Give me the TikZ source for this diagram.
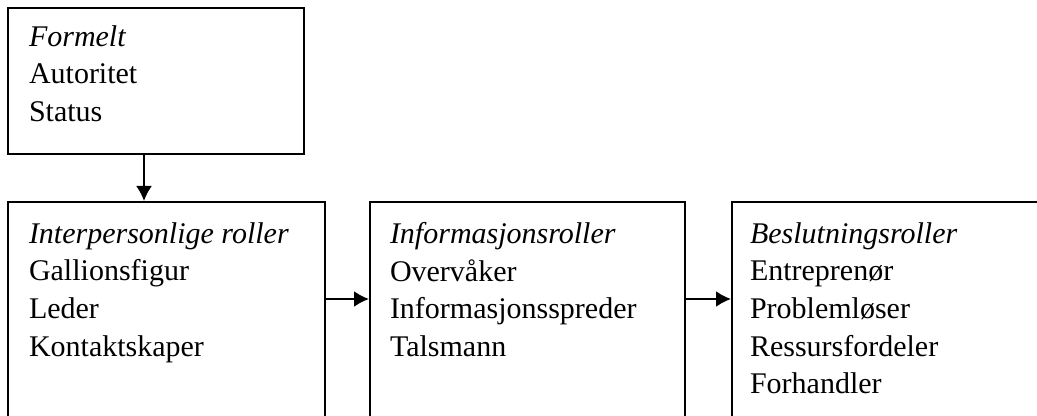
\documentclass[tikz,border=0pt]{standalone}
\usepackage{fontspec}
\setmainfont{Liberation Serif}
\usetikzlibrary{arrows.meta,positioning}

\begin{document}
\begin{tikzpicture}[x=0.5pt,y=-0.5pt,line width=1pt,line cap=butt,line join=miter,
		>={Latex[length=7.5pt,width=8pt]},
		rolebox/.style={draw,anchor=north west,inner sep=0pt,minimum height=140pt},
		roletext/.style={anchor=north west,align=left,inner sep=0pt,
			font=\fontsize{15}{18.8}\selectfont}]
	\useasboundingbox (0,0) rectangle (1037,416);
	\clip (0,0) rectangle (1037,416);
	
	% boxes, the lower three run off the bottom
	\node[rolebox,minimum width=148pt,minimum height=73pt] (formelt) at (7,7) {};
	\node[rolebox,minimum width=158.5pt] (inter) at (7,201) {};
	\node[rolebox,minimum width=157.5pt] (info) at (369,201) {};
	\node[rolebox,minimum width=200pt] (beslut) at (731,201) {};
	
	\node[roletext] (formelttxt) at (28,24.5) {\textit{Formelt}\\Autoritet\\Status};
	\node[roletext] (intertxt) at (28,221.5)
		{\textit{Interpersonlige roller}\\Gallionsfigur\\Leder\\Kontaktskaper};
	\node[roletext] (infotxt) at (389,221.5)
		{\textit{Informasjonsroller}\\Overvåker\\Informasjonsspreder\\Talsmann};
	\node[roletext] (beslutttxt) at (749,221.5)
		{\textit{Beslutningsroller}\\Entreprenør\\Problemløser\\Ressursfordeler\\Forhandler};
	
	\coordinate (row) at (0,299);
	\draw[->] ([xshift=-6pt]formelt.south) -- ([xshift=-6pt]formelt.south |- inter.north);
	\draw[->] (inter.east |- row) -- (info.west |- row);
	\draw[->] (info.east |- row) -- (beslut.west |- row);
\end{tikzpicture}
\end{document}
